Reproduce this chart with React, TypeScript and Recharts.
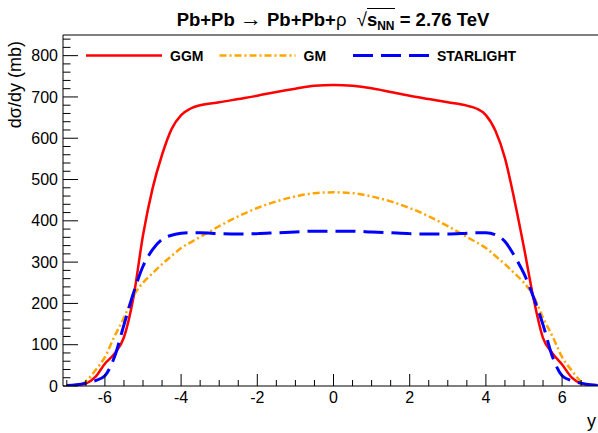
import { Line, LineChart, ReferenceLine, XAxis, YAxis } from "recharts";

// rapidity points and dσ/dy (mb) for the three models
const rapidity = [
  -7, -6.75, -6.5, -6.25, -6, -5.75, -5.5, -5.25, -5, -4.75, -4.5, -4.25, -4, -3.75, -3.5, -3, -2.5, -2, -1.5, -1, -0.5,
  0, 0.5, 1, 1.5, 2, 2.5, 3, 3.5, 3.75, 4, 4.25, 4.5, 4.75, 5, 5.25, 5.5, 5.75, 6, 6.25, 6.5, 6.75, 7,
];
const ggm = [
  0, 2, 6, 22, 54, 78, 118, 215, 365, 478, 560, 622, 656, 672, 680, 687, 695, 703, 712, 720, 727,
  729, 727, 721, 712, 703, 695, 687, 679, 672, 656, 618, 552, 450, 335, 212, 116, 79, 52, 21, 6, 2, 0,
];
const gm = [
  0, 1, 11, 38, 70, 120, 165, 218, 250, 273, 295, 315, 334, 348, 361, 387, 411, 431, 447, 459, 467,
  469, 467, 459, 447, 431, 411, 387, 361, 348, 334, 315, 295, 273, 250, 218, 165, 120, 70, 38, 11, 1, 0,
];
const starlight = [
  1, 3, 7, 13, 25, 70, 148, 225, 290, 330, 355, 365, 370, 371, 371, 369, 368, 369, 371, 373, 375,
  375, 375, 373, 371, 369, 368, 368, 370, 371, 371, 366, 350, 315, 272, 215, 148, 70, 25, 13, 7, 3, 1,
];

const xTicks = [
  -7, -6.5, -6, -5.5, -5, -4.5, -4, -3.5, -3, -2.5, -2, -1.5, -1, -0.5, 0, 0.5, 1, 1.5, 2, 2.5, 3, 3.5, 4, 4.5, 5, 5.5,
  6, 6.5, 7,
];
const xLabels = [-6, -4, -2, 0, 2, 4, 6];
const yTicks = [
  0, 20, 40, 60, 80, 100, 120, 140, 160, 180, 200, 220, 240, 260, 280, 300, 320, 340, 360, 380, 400, 420, 440, 460, 480,
  500, 520, 540, 560, 580, 600, 620, 640, 660, 680, 700, 720, 740, 760, 780, 800, 820, 840,
];
const yLabels = [0, 100, 200, 300, 400, 500, 600, 700, 800];

const seriesNames = ["GGM", "GM", "STARLIGHT"];

const data = rapidity.map((y, i) => ({ y, ggm: ggm[i], gm: gm[i], starlight: starlight[i] }));

const series = [
  { key: "ggm", name: seriesNames[0], color: "#ff0000", dash: undefined, width: 2.5 },
  { key: "gm", name: seriesNames[1], color: "#ffa500", dash: "7 3 2 3", width: 2.5 },
  { key: "starlight", name: seriesNames[2], color: "#0000ff", dash: "20 8", width: 3 },
];

const FONT = "'Liberation Sans', Arial, Helvetica, sans-serif";

function XTick(props: any) {
  const { x, y, payload } = props;
  const labelled = xLabels.includes(payload.value);
  return (
    <g>
      <line x1={x} x2={x} y1={y} y2={y - (labelled ? 12 : 6)} stroke="#000" strokeWidth={1} />
      {labelled && (
        <text x={x} y={y + 17} textAnchor="middle" fontSize={16} fill="#000" fontFamily={FONT}>
          {String(payload.value)}
        </text>
      )}
    </g>
  );
}

function YTick(props: any) {
  const { x, y, payload } = props;
  const labelled = yLabels.includes(payload.value);
  return (
    <g>
      <line x1={x} x2={x + (labelled ? 15 : 7.5)} y1={y} y2={y} stroke="#000" strokeWidth={1} />
      {labelled && (
        <text x={x - 5} y={y} dy="0.35em" textAnchor="end" fontSize={16} fill="#000" fontFamily={FONT}>
          {String(payload.value)}
        </text>
      )}
    </g>
  );
}

export default function App() {
  return (
    <div
      style={{
        position: "absolute",
        left: 0,
        top: 0,
        width: 598,
        height: 433,
        overflow: "hidden",
        background: "#fff",
        fontFamily: FONT,
      }}
    >
      <LineChart width={620} height={433} data={data} margin={{ top: 35, right: 16, left: 0, bottom: 0 }}>
        <XAxis
          dataKey="y"
          type="number"
          domain={[-7.1, 7.1]}
          ticks={xTicks}
          interval={0}
          tickSize={0}
          tickMargin={0}
          tickLine={false}
          tick={<XTick />}
          axisLine={{ stroke: "#000", strokeWidth: 1 }}
          height={47}
          allowDataOverflow
        />
        <YAxis
          type="number"
          domain={[0, 850]}
          ticks={yTicks}
          interval={0}
          tickSize={0}
          tickMargin={0}
          tickLine={false}
          tick={<YTick />}
          axisLine={{ stroke: "#000", strokeWidth: 1 }}
          width={63}
          allowDataOverflow
        />
        <ReferenceLine y={850} stroke="#808080" strokeWidth={2} />
        {series.map((s) => (
          <Line
            key={s.key}
            type="monotone"
            dataKey={s.key}
            name={s.name}
            stroke={s.color}
            strokeWidth={s.width}
            strokeDasharray={s.dash}
            dot={false}
            activeDot={false}
            isAnimationActive={false}
          />
        ))}
      </LineChart>

      <div
        style={{
          position: "absolute",
          left: 0,
          top: 8,
          width: 666,
          textAlign: "center",
          fontSize: 18.5,
          fontWeight: "bold",
          lineHeight: "22px",
          whiteSpace: "nowrap",
        }}
      >
        Pb+Pb <span style={{ fontWeight: "normal", fontSize: 22 }}>→</span> Pb+Pb+
        <span style={{ fontWeight: "normal" }}>ρ</span>
        &nbsp;&nbsp;
        <span style={{ fontWeight: "normal" }}>√</span>
        <span style={{ borderTop: "1px solid #000" }}>
          s<span style={{ fontSize: 12, verticalAlign: "-4px" }}>NN</span>
        </span>{" "}
        = 2.76 TeV
      </div>

      <svg width={598} height={433} style={{ position: "absolute", left: 0, top: 0, pointerEvents: "none" }}>
        {series.map((s, i) => {
          const x0 = 86 + i * 133.5;
          return (
            <g key={s.key}>
              <line
                x1={x0}
                x2={x0 + 76}
                y1={55.5}
                y2={55.5}
                stroke={s.color}
                strokeWidth={s.width}
                strokeDasharray={s.dash}
              />
              <text x={x0 + 84} y={60.5} fontSize={14} fontWeight="bold" fill="#000" fontFamily={FONT}>
                {s.name}
              </text>
            </g>
          );
        })}
        <text
          x={21}
          y={41}
          transform="rotate(-90 21 41)"
          textAnchor="end"
          fontSize={18}
          fill="#000"
          fontFamily={FONT}
        >
          dσ/dy (mb)
        </text>
        <text x={587} y={427} fontSize={18} fill="#000" fontFamily={FONT}>
          y
        </text>
      </svg>
    </div>
  );
}
